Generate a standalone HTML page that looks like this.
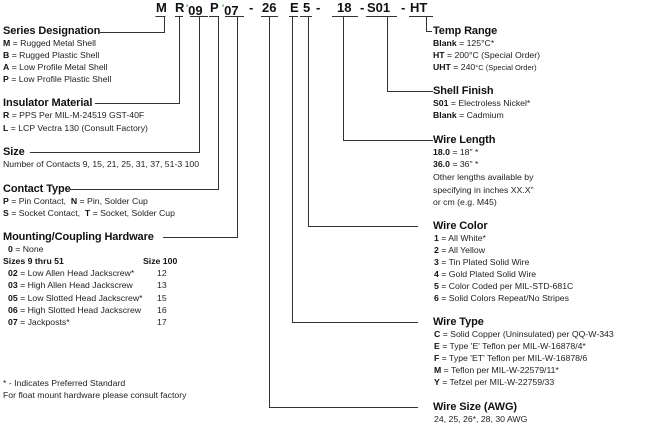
<!DOCTYPE html>
<html><head><meta charset="utf-8"><style>
body{margin:0;width:650px;height:426px;background:#fff;position:relative;overflow:hidden;font-family:"Liberation Sans",sans-serif;color:#222}
.t{position:absolute;font-size:8.7px;line-height:12px;white-space:nowrap}
.h{position:absolute;font-size:11px;font-weight:bold;line-height:14px;white-space:nowrap;font-family:"Liberation Sans",sans-serif;letter-spacing:-0.1px;color:#111}
b{font-weight:bold;color:#111}
.c{position:absolute;top:1px;font-size:13px;font-weight:bold;font-family:"Liberation Sans",sans-serif;color:#111;line-height:14px}
.g{color:#2a9a2a;font-size:9px;vertical-align:4px}
</style></head><body>
<svg width="650" height="426" style="position:absolute;left:0;top:0">
<g stroke="#333" stroke-width="1" fill="none">
<path d="M155.5 16.5H165.5M175 16.5H183M190 16.5H208M209 16.5H219M225 16.5H244M261 16.5H278M289 16.5H298M300 16.5H312M332 16.5H358M366 16.5H397M409 16.5H433"/>
<path d="M164.5 17V32.5H100"/>
<path d="M179.5 17V103.5H95"/>
<path d="M199.5 17V152.5H30"/>
<path d="M218.5 17V189.5H70"/>
<path d="M237.5 17V237.5H163"/>
<path d="M269.5 17V407.5H418"/>
<path d="M292.5 17V322.5H418"/>
<path d="M308.5 17V226.5H418"/>
<path d="M343.5 17V140.5H433"/>
<path d="M387.5 17V91.5H433"/>
<path d="M426.5 17V31.5H432"/>
</g></svg>
<span class="c" style="left:156px">M</span><span class="c" style="left:175px">R</span><span class="c" style="left:186px"><span class="g">'</span>09</span><span class="c" style="left:210px">P</span><span class="c" style="left:222px"><span class="g">'</span>07</span><span class="c" style="left:249px">-</span><span class="c" style="left:262px">26</span><span class="c" style="left:290px">E</span><span class="c" style="left:303px">5</span><span class="c" style="left:316px">-</span><span class="c" style="left:337px">18</span><span class="c" style="left:360px">-</span><span class="c" style="left:367px">S01</span><span class="c" style="left:401px">-</span><span class="c" style="left:410px">HT</span>

<div class="h" style="left:3px;top:24px">Series Designation</div>
<div class="t" style="left:3px;top:37px"><b>M</b> = Rugged Metal Shell</div>
<div class="t" style="left:3px;top:49px"><b>B</b> = Rugged Plastic Shell</div>
<div class="t" style="left:3px;top:61px"><b>A</b> = Low Profile Metal Shell</div>
<div class="t" style="left:3px;top:73px"><b>P</b> = Low Profile Plastic Shell</div>
<div class="h" style="left:3px;top:96px">Insulator Material</div>
<div class="t" style="left:3px;top:109px"><b>R</b> = PPS Per MIL-M-24519 GST-40F</div>
<div class="t" style="left:3px;top:122px"><b>L</b> = LCP Vectra 130 (Consult Factory)</div>
<div class="h" style="left:3px;top:145px">Size</div>
<div class="t" style="left:3px;top:158px">Number of Contacts 9, 15, 21, 25, 31, 37, 51-3 100</div>
<div class="h" style="left:3px;top:182px">Contact Type</div>
<div class="t" style="left:3px;top:195px"><b>P</b> = Pin Contact,&nbsp; <b>N</b> = Pin, Solder Cup</div>
<div class="t" style="left:3px;top:207px"><b>S</b> = Socket Contact,&nbsp; <b>T</b> = Socket, Solder Cup</div>
<div class="h" style="left:3px;top:230px">Mounting/Coupling Hardware</div>
<div class="t" style="left:8px;top:243px"><b>0</b> = None</div>
<div class="t" style="left:3px;top:255px"><b>Sizes 9 thru 51</b></div><div class="t" style="left:143px;top:255px"><b>Size 100</b></div>
<div class="t" style="left:8px;top:267px"><b>02</b> = Low Allen Head Jackscrew*</div><div class="t" style="left:157px;top:267px">12</div>
<div class="t" style="left:8px;top:279px"><b>03</b> = High Allen Head Jackscrew</div><div class="t" style="left:157px;top:279px">13</div>
<div class="t" style="left:8px;top:292px"><b>05</b> = Low Slotted Head Jackscrew*</div><div class="t" style="left:157px;top:292px">15</div>
<div class="t" style="left:8px;top:304px"><b>06</b> = High Slotted Head Jackscrew</div><div class="t" style="left:157px;top:304px">16</div>
<div class="t" style="left:8px;top:316px"><b>07</b> = Jackposts*</div><div class="t" style="left:157px;top:316px">17</div>
<div class="t" style="left:3px;top:377px">* - Indicates Preferred Standard</div>
<div class="t" style="left:3px;top:389px">For float mount hardware please consult factory</div>

<div class="h" style="left:433px;top:24px">Temp Range</div>
<div class="t" style="left:433px;top:37px"><b>Blank</b> = 125°C*</div>
<div class="t" style="left:433px;top:49px"><b>HT</b> = 200°C (Special Order)</div>
<div class="t" style="left:433px;top:61px"><b>UHT</b> = 240<span style="font-size:7.5px">°C (Special Order)</span></div>
<div class="h" style="left:433px;top:84px">Shell Finish</div>
<div class="t" style="left:433px;top:97px"><b>S01</b> = Electroless Nickel*</div>
<div class="t" style="left:433px;top:109px"><b>Blank</b> = Cadmium</div>
<div class="h" style="left:433px;top:133px">Wire Length</div>
<div class="t" style="left:433px;top:146px"><b>18.0</b> = 18" *</div>
<div class="t" style="left:433px;top:158px"><b>36.0</b> = 36" *</div>
<div class="t" style="left:433px;top:171px">Other lengths available by</div>
<div class="t" style="left:433px;top:184px">specifying in inches XX.X"</div>
<div class="t" style="left:433px;top:196px">or cm (e.g. M45)</div>
<div class="h" style="left:433px;top:219px">Wire Color</div>
<div class="t" style="left:434px;top:232px"><b>1</b> = All White*</div>
<div class="t" style="left:434px;top:244px"><b>2</b> = All Yellow</div>
<div class="t" style="left:434px;top:256px"><b>3</b> = Tin Plated Solid Wire</div>
<div class="t" style="left:434px;top:268px"><b>4</b> = Gold Plated Solid Wire</div>
<div class="t" style="left:434px;top:280px"><b>5</b> = Color Coded per MIL-STD-681C</div>
<div class="t" style="left:434px;top:292px"><b>6</b> = Solid Colors Repeat/No Stripes</div>
<div class="h" style="left:433px;top:315px">Wire Type</div>
<div class="t" style="left:434px;top:328px"><b>C</b> = Solid Copper (Uninsulated) per QQ-W-343</div>
<div class="t" style="left:434px;top:340px"><b>E</b> = Type 'E' Teflon per MIL-W-16878/4*</div>
<div class="t" style="left:434px;top:352px"><b>F</b> = Type 'ET' Teflon per MIL-W-16878/6</div>
<div class="t" style="left:434px;top:364px"><b>M</b> = Teflon per MIL-W-22579/11*</div>
<div class="t" style="left:434px;top:376px"><b>Y</b> = Tefzel per MIL-W-22759/33</div>
<div class="h" style="left:433px;top:400px">Wire Size (AWG)</div>
<div class="t" style="left:434px;top:413px">24, 25, 26*, 28, 30 AWG</div>
</body></html>
